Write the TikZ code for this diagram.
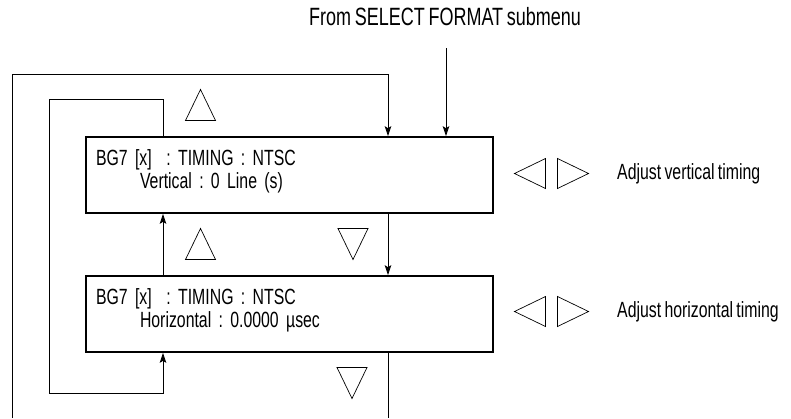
\documentclass[tikz,border=0pt]{standalone}
\usepackage{fontspec}
\setmainfont{Liberation Sans}[FakeStretch=0.72,WordSpace=0.75]
\usetikzlibrary{arrows.meta,positioning,calc}
\tikzset{
  >={Stealth[length=10pt,width=6.5pt,inset=2pt]},
  every node/.style={font=\fontsize{22}{23}\selectfont\frenchspacing},
  menu/.style={draw=black,line width=1.6pt,fill=white,align=left,text width=387pt,
    inner xsep=10pt,minimum width=407pt,minimum height=76pt},
  flow/.style={->,line width=0.9pt},
  wire/.style={line width=0.9pt},
  lab/.style={anchor=west,inner sep=0pt},
  key/.style={line width=0.7pt},
  keytri/.pic={\draw[key] (-15,-15.5) -- (15,-15.5) -- (0,15.5) -- cycle;},
}

\begin{document}
\begin{tikzpicture}[x=1pt,y=1pt]
  \useasboundingbox (0,0) rectangle (791,-418);

  % entry from the submenu
  \node[font=\fontsize{25}{27}\selectfont] (src) at (445,-17) {From SELECT FORMAT submenu};
  \coordinate (srcend) at (446,-48);

  % the two menu screens
  \node[menu] (vt) at (289.5,-175)
    {BG7 [x]\ \ : TIMING : NTSC\\\hspace*{2em}Vertical : 0 Line (s)\rule[-12pt]{0pt}{0pt}};
  \node[menu] (hz) at (289.5,-314)
    {BG7 [x]\ \ : TIMING : NTSC\\\hspace*{2em}Horizontal : 0.0000 µsec\rule[-12pt]{0pt}{0pt}};

  % loop corners
  \coordinate (xl) at (163,0);
  \coordinate (xr) at (388,0);
  \coordinate (ot) at (12,-74);
  \coordinate (ob) at (12,-418);
  \coordinate (it) at (49,-99);
  \coordinate (ib) at (49,-393);

  % flows
  \draw[flow] (srcend) -- (vt.north -| srcend);
  \draw[flow] (ob) -- (ot) -| (vt.north -| xr);
  \draw[wire] (hz.south -| xr) -- (xr |- ob);
  \draw[flow] (vt.north -| xl) |- (it) -- (ib) -| (hz.south -| xl);
  \draw[flow] (hz.north -| xl) -- (vt.south -| xl);
  \draw[flow] (vt.south -| xr) -- (hz.north -| xr);

  % up / down keys
  \pic at (200.5,-105) {keytri};
  \pic at (200.5,-244) {keytri};
  \pic[rotate=180] at (353,-244) {keytri};
  \pic[rotate=180] at (352,-383) {keytri};

  % left / right keys
  \foreach \y in {-173.5,-311.5}{
    \pic[rotate=90] at (530,\y) {keytri};
    \pic[rotate=-90] at (573,\y) {keytri};
  }
  \node[lab] (adjv) at (617,-174) {Adjust vertical timing};
  \node[lab] (adjh) at (617,-312) {Adjust horizontal timing};
\end{tikzpicture}
\end{document}
